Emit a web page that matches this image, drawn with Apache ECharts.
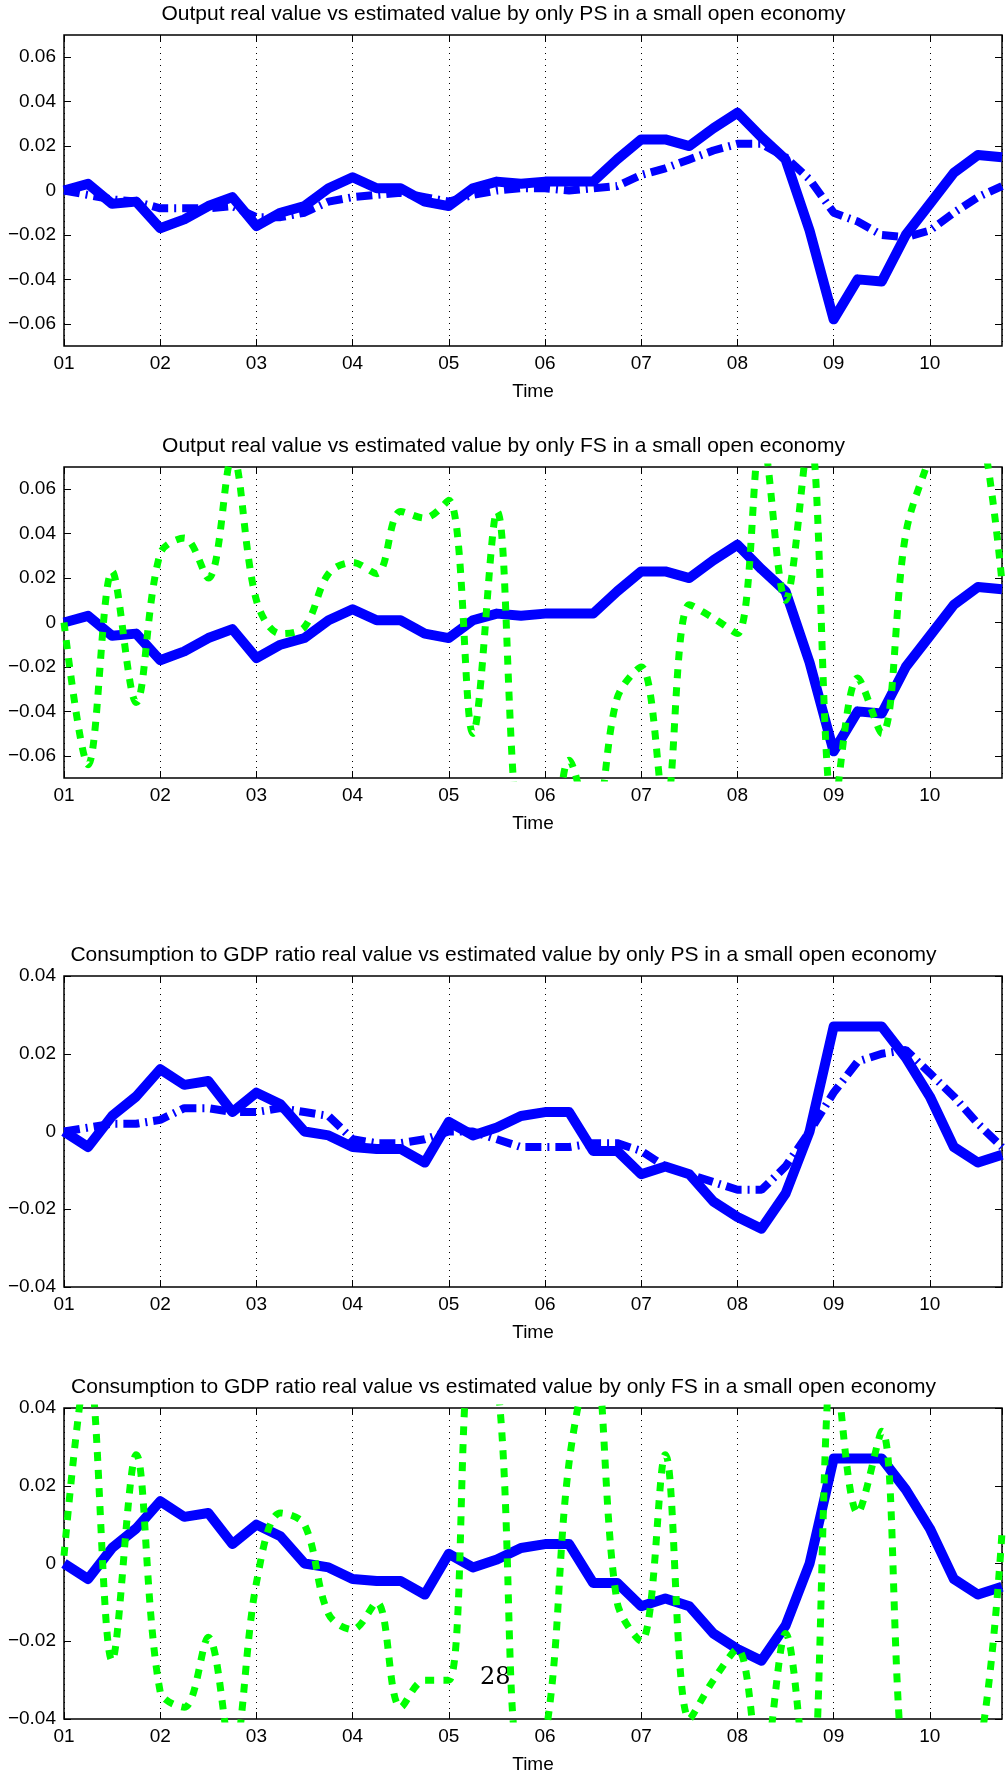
<!DOCTYPE html>
<html>
<head>
<meta charset="utf-8">
<script src="https://cdn.jsdelivr.net/npm/echarts@6/dist/echarts.min.js"></script>
<style>
  html, body { margin: 0; padding: 0; background: #fff; }
  #chart { width: 1007px; height: 1775px; }
</style>
</head>
<body>
<div id="chart"></div>
<script>
// quarterly time axis, 2001Q1 .. 2010Q4
let quarters = []
for (let i = 0; i < 40; i++) quarters.push(1 + i * 0.25)

let yearLabels = ['01', '02', '03', '04', '05', '06', '07', '08', '09', '10']

let titles = [
  'Output real value vs estimated value by only PS in a small open economy',
  'Output real value vs estimated value by only FS in a small open economy',
  'Consumption to GDP ratio real value vs estimated value by only PS in a small open economy',
  'Consumption to GDP ratio real value vs estimated value by only FS in a small open economy'
]

let outputReal = [0.0, 0.003, -0.006, -0.005, -0.017, -0.013, -0.007, -0.003,
  -0.016, -0.010, -0.007, 0.001, 0.006, 0.001, 0.001, -0.005,
  -0.007, 0.001, 0.004, 0.003, 0.004, 0.004, 0.004, 0.014,
  0.023, 0.023, 0.020, 0.028, 0.035, 0.024, 0.014, -0.018,
  -0.058, -0.040, -0.041, -0.020, -0.006, 0.008, 0.016, 0.015]

let outputPS = [0.0, -0.002, -0.004, -0.005, -0.008, -0.008, -0.008, -0.007,
  -0.012, -0.012, -0.010, -0.005, -0.003, -0.002, -0.001, -0.003,
  -0.005, -0.002, 0.0, 0.001, 0.001, 0.0, 0.001, 0.002,
  0.007, 0.010, 0.014, 0.018, 0.021, 0.021, 0.015, 0.005,
  -0.010, -0.014, -0.020, -0.021, -0.018, -0.010, -0.003, 0.002]

let outputFS = [0.0, -0.064, 0.023, -0.036, 0.031, 0.038, 0.020, 0.075,
  0.010, -0.005, -0.002, 0.022, 0.027, 0.022, 0.050, 0.047,
  0.055, -0.050, 0.050, -0.110, -0.120, -0.062, -0.095, -0.034,
  -0.020, -0.085, 0.008, 0.002, -0.005, 0.085, 0.010, 0.085,
  -0.085, -0.025, -0.050, 0.040, 0.075, 0.110, 0.095, 0.018]

let consReal = [0.0, -0.004, 0.004, 0.009, 0.016, 0.012, 0.013, 0.005,
  0.010, 0.007, 0.0, -0.001, -0.004, -0.0045, -0.0045, -0.008,
  0.0025, -0.001, 0.001, 0.004, 0.005, 0.005, -0.005, -0.005,
  -0.011, -0.009, -0.011, -0.018, -0.022, -0.025, -0.016, 0.0,
  0.027, 0.027, 0.027, 0.019, 0.009, -0.004, -0.008, -0.006]

let consPS = [0.0, 0.001, 0.002, 0.002, 0.003, 0.006, 0.006, 0.005,
  0.005, 0.006, 0.005, 0.004, -0.002, -0.003, -0.003, -0.002,
  0.0, 0.0, -0.002, -0.004, -0.004, -0.004, -0.003, -0.003,
  -0.005, -0.009, -0.011, -0.013, -0.015, -0.015, -0.009, 0.0,
  0.010, 0.018, 0.020, 0.021, 0.015, 0.009, 0.002, -0.004]

let consFS = [0.002, 0.052, -0.025, 0.028, -0.033, -0.037, -0.019, -0.050,
  -0.005, 0.013, 0.010, -0.013, -0.017, -0.010, -0.037, -0.030,
  -0.030, 0.055, 0.048, -0.050, -0.045, 0.026, 0.055, -0.010,
  -0.020, 0.028, -0.040, -0.030, -0.022, -0.055, -0.018, -0.065,
  0.055, 0.013, 0.034, -0.060, -0.065, -0.055, -0.050, 0.008]

let panels = [
  { real: outputReal, est: outputPS, kind: 'PS', min: -0.07, max: 0.07, ticks: [-0.06, -0.04, -0.02, 0, 0.02, 0.04, 0.06] },
  { real: outputReal, est: outputFS, kind: 'FS', min: -0.07, max: 0.07, ticks: [-0.06, -0.04, -0.02, 0, 0.02, 0.04, 0.06] },
  { real: consReal, est: consPS, kind: 'PS', min: -0.04, max: 0.04, ticks: [-0.04, -0.02, 0, 0.02, 0.04] },
  { real: consReal, est: consFS, kind: 'FS', min: -0.04, max: 0.04, ticks: [-0.04, -0.02, 0, 0.02, 0.04] }
]

let tops = [35, 467, 976, 1408]
let plotH = 311
let font = 'Liberation Sans, Arial, sans-serif'

function fmtY(v) {
  if (Math.abs(v) < 1e-9) return '0'
  return v.toFixed(2).replace('-', '\u2212')
}

let grids = [], xAxes = [], yAxes = [], series = [], graphics = []

panels.forEach((p, k) => {
  grids.push({ left: 64, right: 5, top: tops[k], height: plotH, show: true, borderColor: '#000', borderWidth: 1.5 })

  let xi = xAxes.length
  xAxes.push({
    type: 'value', gridIndex: k, min: 1, max: 10.75, interval: 1,
    axisLine: { show: false, onZero: false },
    axisTick: { inside: true, length: 7, lineStyle: { color: '#000' } },
    axisLabel: { color: '#000', fontSize: 19, fontFamily: font, margin: 8, showMaxLabel: false,
      formatter: v => (Number.isInteger(v) ? yearLabels[v - 1] : '') },
    splitLine: { show: true, lineStyle: { color: '#000', type: [1, 5], width: 1 } },
    name: 'Time', nameLocation: 'middle', nameGap: 36,
    nameTextStyle: { color: '#000', fontSize: 19, fontFamily: font }
  })
  xAxes.push({
    type: 'value', gridIndex: k, min: 1, max: 10.75, interval: 1, position: 'top',
    axisLine: { show: false, onZero: false }, axisLabel: { show: false }, splitLine: { show: false },
    axisTick: { inside: true, length: 7, lineStyle: { color: '#000' } }
  })

  let yi = yAxes.length
  yAxes.push({
    type: 'value', gridIndex: k, min: p.min, max: p.max,
    axisLine: { show: false, onZero: false },
    axisTick: { inside: true, length: 7, customValues: p.ticks, lineStyle: { color: '#000' } },
    axisLabel: { color: '#000', fontSize: 19, fontFamily: font, margin: 8, customValues: p.ticks, formatter: fmtY },
    splitLine: { show: false }
  })
  yAxes.push({
    type: 'value', gridIndex: k, min: p.min, max: p.max, position: 'right',
    axisLine: { show: false, onZero: false }, axisLabel: { show: false }, splitLine: { show: false },
    axisTick: { inside: true, length: 7, customValues: p.ticks, lineStyle: { color: '#000' } }
  })

  let estStyle = p.kind === 'PS'
    ? { color: '#0000ff', width: 8, type: [16, 6, 2, 6], cap: 'butt' }
    : { color: '#00ff00', width: 7, type: [9, 9], cap: 'butt' }

  series.push({
    type: 'line', xAxisIndex: xi, yAxisIndex: yi, showSymbol: false, clip: true,
    smooth: p.kind === 'FS' ? 0.35 : false,
    lineStyle: estStyle, z: p.kind === 'FS' ? 3 : 2,
    data: quarters.map((q, i) => [q, p.est[i]])
  })
  series.push({
    type: 'line', xAxisIndex: xi, yAxisIndex: yi, showSymbol: false, clip: true,
    lineStyle: { color: '#0000ff', width: 10, join: 'round' }, z: 2,
    data: quarters.map((q, i) => [q, p.real[i]])
  })

  graphics.push({
    type: 'text', left: 'center', top: tops[k] - 31,
    style: { text: titles[k], fill: '#000', font: '21px ' + font }
  })
})

// page number
graphics.push({
  type: 'text', left: 480, top: 1666,
  style: { text: '28', fill: '#000', font: '24px "DejaVu Serif", serif' }
})

let myChart = echarts.init(document.getElementById('chart'))
myChart.setOption({
  animation: false,
  backgroundColor: '#fff',
  grid: grids,
  xAxis: xAxes,
  yAxis: yAxes,
  series: series,
  graphic: graphics
})
</script>
</body>
</html>
